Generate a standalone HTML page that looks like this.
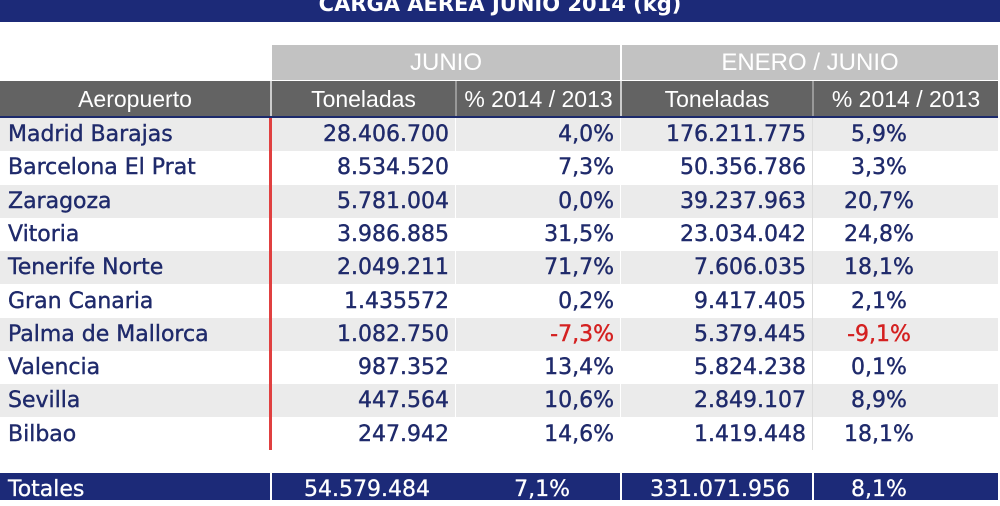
<!DOCTYPE html>
<html><head><style>
body{margin:0;width:1000px;height:500px;overflow:hidden;background:#fff;font-family:"Liberation Sans",sans-serif;position:relative}
.a{position:absolute;box-sizing:border-box}
.t{font-family:"DejaVu Sans",sans-serif;font-size:22px;color:#1f2a6b;line-height:33px;-webkit-text-stroke:0.4px #1f2a6b}
.w{font-family:"DejaVu Sans",sans-serif;font-size:22px;color:#fff;line-height:33px;-webkit-text-stroke:0.3px #fff}
</style></head><body>
<div class="a" style="left:0;top:0;width:1000px;height:22px;background:#1c2a78;color:#fff;font-weight:bold;font-family:'DejaVu Sans',sans-serif;font-size:21px;line-height:16px;overflow:hidden;text-align:center"><span style="position:relative;top:-4px">CARGA AEREA JUNIO 2014 (kg)</span></div>
<div class="a" style="left:272px;top:45px;width:348px;height:35px;background:#c2c2c2;color:#fff;font-size:24px;line-height:35px;text-align:center">JUNIO</div>
<div class="a" style="left:622px;top:45px;width:376px;height:35px;background:#c2c2c2;color:#fff;font-size:24px;line-height:35px;text-align:center">ENERO / JUNIO</div>
<div class="a" style="left:0;top:81px;width:998px;height:36px;background:#636363"></div>
<div class="a" style="left:0;top:81px;width:270px;height:36px;color:#fff;font-size:23px;line-height:36px;text-align:center">Aeropuerto</div>
<div class="a" style="left:270px;top:81px;width:2px;height:36px;background:#ccc"></div>
<div class="a" style="left:272px;top:81px;width:183px;height:36px;color:#fff;font-size:23px;line-height:36px;text-align:center">Toneladas</div>
<div class="a" style="left:455px;top:81px;width:2px;height:36px;background:#999"></div>
<div class="a" style="left:457px;top:81px;width:163px;height:36px;color:#fff;font-size:23px;line-height:36px;text-align:center">% 2014 / 2013</div>
<div class="a" style="left:620px;top:81px;width:2px;height:36px;background:#ccc"></div>
<div class="a" style="left:622px;top:81px;width:190px;height:36px;color:#fff;font-size:23px;line-height:36px;text-align:center">Toneladas</div>
<div class="a" style="left:812px;top:81px;width:2px;height:36px;background:#999"></div>
<div class="a" style="left:814px;top:81px;width:184px;height:36px;color:#fff;font-size:23px;line-height:36px;text-align:center">% 2014 / 2013</div>
<div class="a" style="left:0;top:116px;width:998px;height:3px;background:#1c2a6b"></div>
<div id="rows"></div>
<script>
var d=[["Madrid Barajas","28.406.700","4,0%","176.211.775","5,9%"],
["Barcelona El Prat","8.534.520","7,3%","50.356.786","3,3%"],
["Zaragoza","5.781.004","0,0%","39.237.963","20,7%"],
["Vitoria","3.986.885","31,5%","23.034.042","24,8%"],
["Tenerife Norte","2.049.211","71,7%","7.606.035","18,1%"],
["Gran Canaria","1.435572","0,2%","9.417.405","2,1%"],
["Palma de Mallorca","1.082.750","-7,3%","5.379.445","-9,1%"],
["Valencia","987.352","13,4%","5.824.238","0,1%"],
["Sevilla","447.564","10,6%","2.849.107","8,9%"],
["Bilbao","247.942","14,6%","1.419.448","18,1%"]];
var h="";
d.forEach(function(r,i){var y=118+i*33.3;var bg=i%2==0?"#ebebeb":"#fff";var red=r[2][0]=="-";var rc='color:#d42020;-webkit-text-stroke:0.4px #d42020';
h+='<div class="a" style="left:0;top:'+y+'px;width:998px;height:33px;background:'+bg+'"></div>';
h+='<div class="a t" style="left:8px;top:'+y+'px">'+r[0]+'</div>';
h+='<div class="a t" style="left:272px;top:'+y+'px;width:177px;text-align:right">'+r[1]+'</div>';
h+='<div class="a t" style="left:457px;top:'+y+'px;width:157px;text-align:right;'+(red?rc:'')+'">'+r[2]+'</div>';
h+='<div class="a t" style="left:622px;top:'+y+'px;width:184px;text-align:right">'+r[3]+'</div>';
h+='<div class="a t" style="left:814px;top:'+y+'px;width:130px;text-align:center;'+(red?rc:'')+'">'+r[4]+'</div>';});
h+='<div class="a" style="left:269px;top:118px;width:3px;height:332px;background:#e04040"></div>';
h+='<div class="a" style="left:620px;top:118px;width:1px;height:332px;background:#fff"></div>';
h+='<div class="a" style="left:812px;top:118px;width:1px;height:332px;background:#ddd"></div>';
h+='<div class="a" style="left:455px;top:118px;width:1px;height:332px;background:#fff"></div>';
document.getElementById("rows").innerHTML=h;
</script>
<div class="a" style="left:0;top:473px;width:998px;height:27px;background:#1c2a78"></div>
<div class="a" style="left:270px;top:473px;width:2px;height:27px;background:#fff"></div>
<div class="a" style="left:620px;top:473px;width:2px;height:27px;background:#fff"></div>
<div class="a" style="left:812px;top:473px;width:2px;height:27px;background:#fff"></div>
<div class="a w" style="left:8px;top:473px">Totales</div>
<div class="a w" style="left:272px;top:473px;width:158px;text-align:right">54.579.484</div>
<div class="a w" style="left:457px;top:473px;width:113px;text-align:right">7,1%</div>
<div class="a w" style="left:622px;top:473px;width:168px;text-align:right">331.071.956</div>
<div class="a w" style="left:814px;top:473px;width:130px;text-align:center">8,1%</div>
</body></html>
